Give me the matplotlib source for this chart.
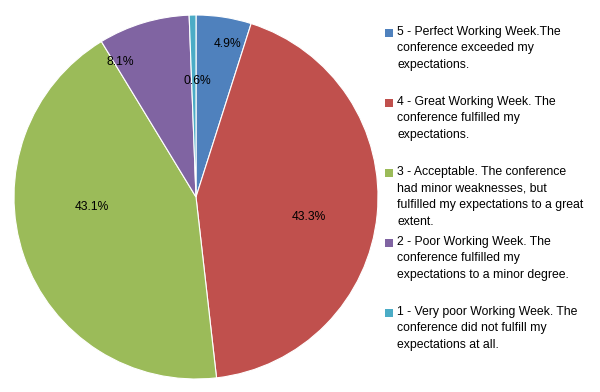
import numpy as np
import matplotlib as mpl
mpl.use('Agg')
import matplotlib.pyplot as plt
from matplotlib.patches import Rectangle

plt.rcParams['font.family'] = ['Liberation Sans', 'DejaVu Sans']

# data (clockwise from 12 o'clock)
categories = [
    '5 - Perfect Working Week.The\nconference exceeded my\nexpectations.',
    '4 - Great Working Week. The\nconference fulfilled my\nexpectations.',
    '3 - Acceptable. The conference\nhad minor weaknesses, but\nfulfilled my expectations to a great\nextent.',
    '2 - Poor Working Week. The\nconference fulfilled my\nexpectations to a minor degree.',
    '1 - Very poor Working Week. The\nconference did not fulfill my\nexpectations at all.',
]
shares = [4.9, 43.3, 43.1, 8.1, 0.6]
colors = ['#4F81BD', '#C0504D', '#9BBB59', '#8064A2', '#4BACC6']
# label placement: (angle shift from wedge middle in deg, radius)
label_pos = [(-2.7, 0.86), (-4.4, 0.63), (-13.4, 0.575), (12.7, 0.85), (-1.6, 0.64)]

fig = plt.figure(figsize=(6.0, 3.92), dpi=100)
ax = fig.add_axes([14/600, 13/392, 364/600, 364/392])

wedges, texts, autotexts = ax.pie(shares, colors=colors, startangle=90, counterclock=False,
                                  autopct='%.1f%%', radius=1.0,
                                  wedgeprops=dict(edgecolor='white', linewidth=0.8),
                                  textprops=dict(fontsize=8.7, color='black'))
for w, t, (da, r) in zip(wedges, autotexts, label_pos):
    ang = np.deg2rad((w.theta1 + w.theta2) / 2 + da)
    t.set_position((r*np.cos(ang), r*np.sin(ang)))
ax.set_xlim(-1, 1)
ax.set_ylim(-1, 1)
ax.set_aspect('equal')
ax.axis('off')

# legend, evenly spaced entries like excel
top = 1 - 26/392
step = 70/392
for i, (lab, c) in enumerate(zip(categories, colors)):
    y = top - i*step
    fig.patches.append(Rectangle((385/600, y - 11/392), 8/600, 8/392, transform=fig.transFigure,
                                 facecolor=c, edgecolor='none'))
    fig.text(397/600, y, lab, fontsize=8.8, va='top', ha='left', linespacing=1.5)

plt.savefig('out.png', dpi=100)
